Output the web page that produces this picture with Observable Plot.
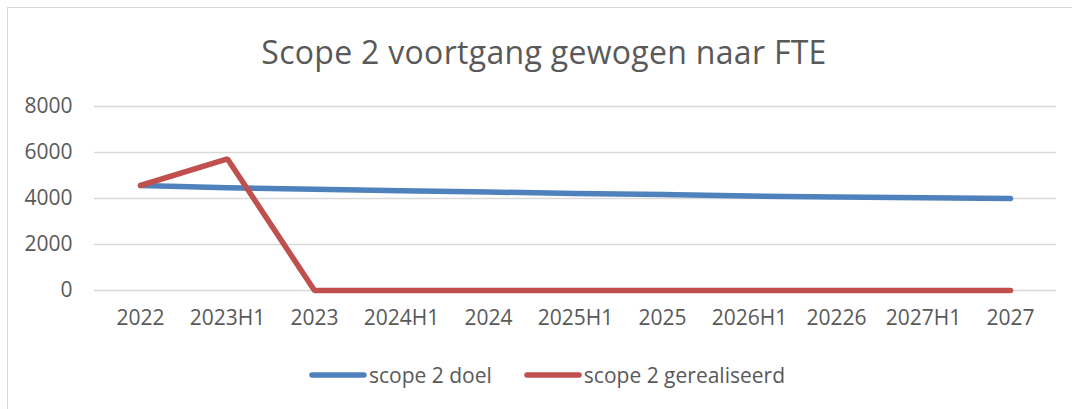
<!DOCTYPE html>
<html>
<head>
<meta charset="utf-8">
<script src="https://cdn.jsdelivr.net/npm/d3@7"></script>
<script src="https://cdn.jsdelivr.net/npm/@observablehq/plot@0.6"></script>
<style>
  html, body { margin: 0; padding: 0; background: #fff; }
  body { width: 1072px; height: 409px; position: relative; overflow: hidden; font-family: "Open Sans", "Liberation Sans", sans-serif; color: #595959; }
  #frame { position: absolute; left: 7px; top: 7px; width: 1080px; height: 420px; border: 1.5px solid #d9d9d9; box-sizing: border-box; z-index: 2; pointer-events: none; }
  #title { position: absolute; left: 8px; width: 1072px; top: 30px; text-align: center; font-size: 32px; line-height: 44px; color: #595959; letter-spacing: 0.3px; }
  #chart { position: absolute; left: 0; top: 90px; }
  #legend { position: absolute; left: 11px; width: 1072px; top: 360px; display: flex; justify-content: center; font-size: 21px; line-height: 30px; }
  .item { display: flex; align-items: center; margin: 0 16px; }
  .item svg { margin-right: 2px; }
</style>
</head>
<body>
<div id="frame"></div>
<div id="title">Scope 2 voortgang gewogen naar FTE</div>
<div id="chart"></div>
<div id="legend"></div>
<script>
const categories = ["2022", "2023H1", "2023", "2024H1", "2024", "2025H1", "2025", "2026H1", "20226", "2027H1", "2027"];
const doel = [4565, 4470, 4400, 4340, 4280, 4220, 4170, 4110, 4060, 4030, 4000];
const gerealiseerd = [4565, 5720, 0, 0, 0, 0, 0, 0, 0, 0, 0];
const yTicks = [0, 2000, 4000, 6000, 8000];
const seriesNames = ["scope 2 doel", "scope 2 gerealiseerd"];
const seriesColors = ["#4F81BD", "#C0504D"];

const rows = [];
categories.forEach((c, i) => {
  rows.push({cat: c, value: doel[i], series: seriesNames[0]});
  rows.push({cat: c, value: gerealiseerd[i], series: seriesNames[1]});
});

const plot = Plot.plot({
  width: 1072,
  height: 255,
  marginTop: 16,
  marginBottom: 55,
  marginLeft: 94,
  marginRight: 16,
  style: { fontFamily: "'Open Sans', 'Liberation Sans', sans-serif", fontSize: "21px", color: "#595959", background: "transparent" },
  x: { type: "point", domain: categories, padding: 0.5, label: null },
  y: { domain: [0, 8000], ticks: yTicks, label: null },
  color: { domain: seriesNames, range: seriesColors },
  marks: [
    Plot.ruleY(yTicks, { stroke: "#d9d9d9", strokeWidth: 1.5 }),
    Plot.axisY({ ticks: yTicks, tickSize: 0, tickPadding: 22, tickFormat: d3.format("d"), label: null, fill: "#595959" }),
    Plot.axisX({ tickSize: 0, tickPadding: 20, label: null, fill: "#595959" }),
    Plot.line(rows.filter(d => d.series === seriesNames[0]), { x: "cat", y: "value", stroke: seriesColors[0], strokeWidth: 5.5, strokeLinecap: "round", strokeLinejoin: "round" }),
    Plot.line(rows.filter(d => d.series === seriesNames[1]), { x: "cat", y: "value", stroke: seriesColors[1], strokeWidth: 5.5, strokeLinecap: "round", strokeLinejoin: "miter" })
  ]
});
document.getElementById("chart").appendChild(plot);

const legend = document.getElementById("legend");
seriesNames.forEach((name, i) => {
  const item = document.createElement("div");
  item.className = "item";
  item.innerHTML = `<svg width="58" height="10"><line x1="3" y1="5" x2="55" y2="5" stroke="${seriesColors[i]}" stroke-width="5.5" stroke-linecap="round"/></svg><span>${name}</span>`;
  legend.appendChild(item);
});
</script>
</body>
</html>
